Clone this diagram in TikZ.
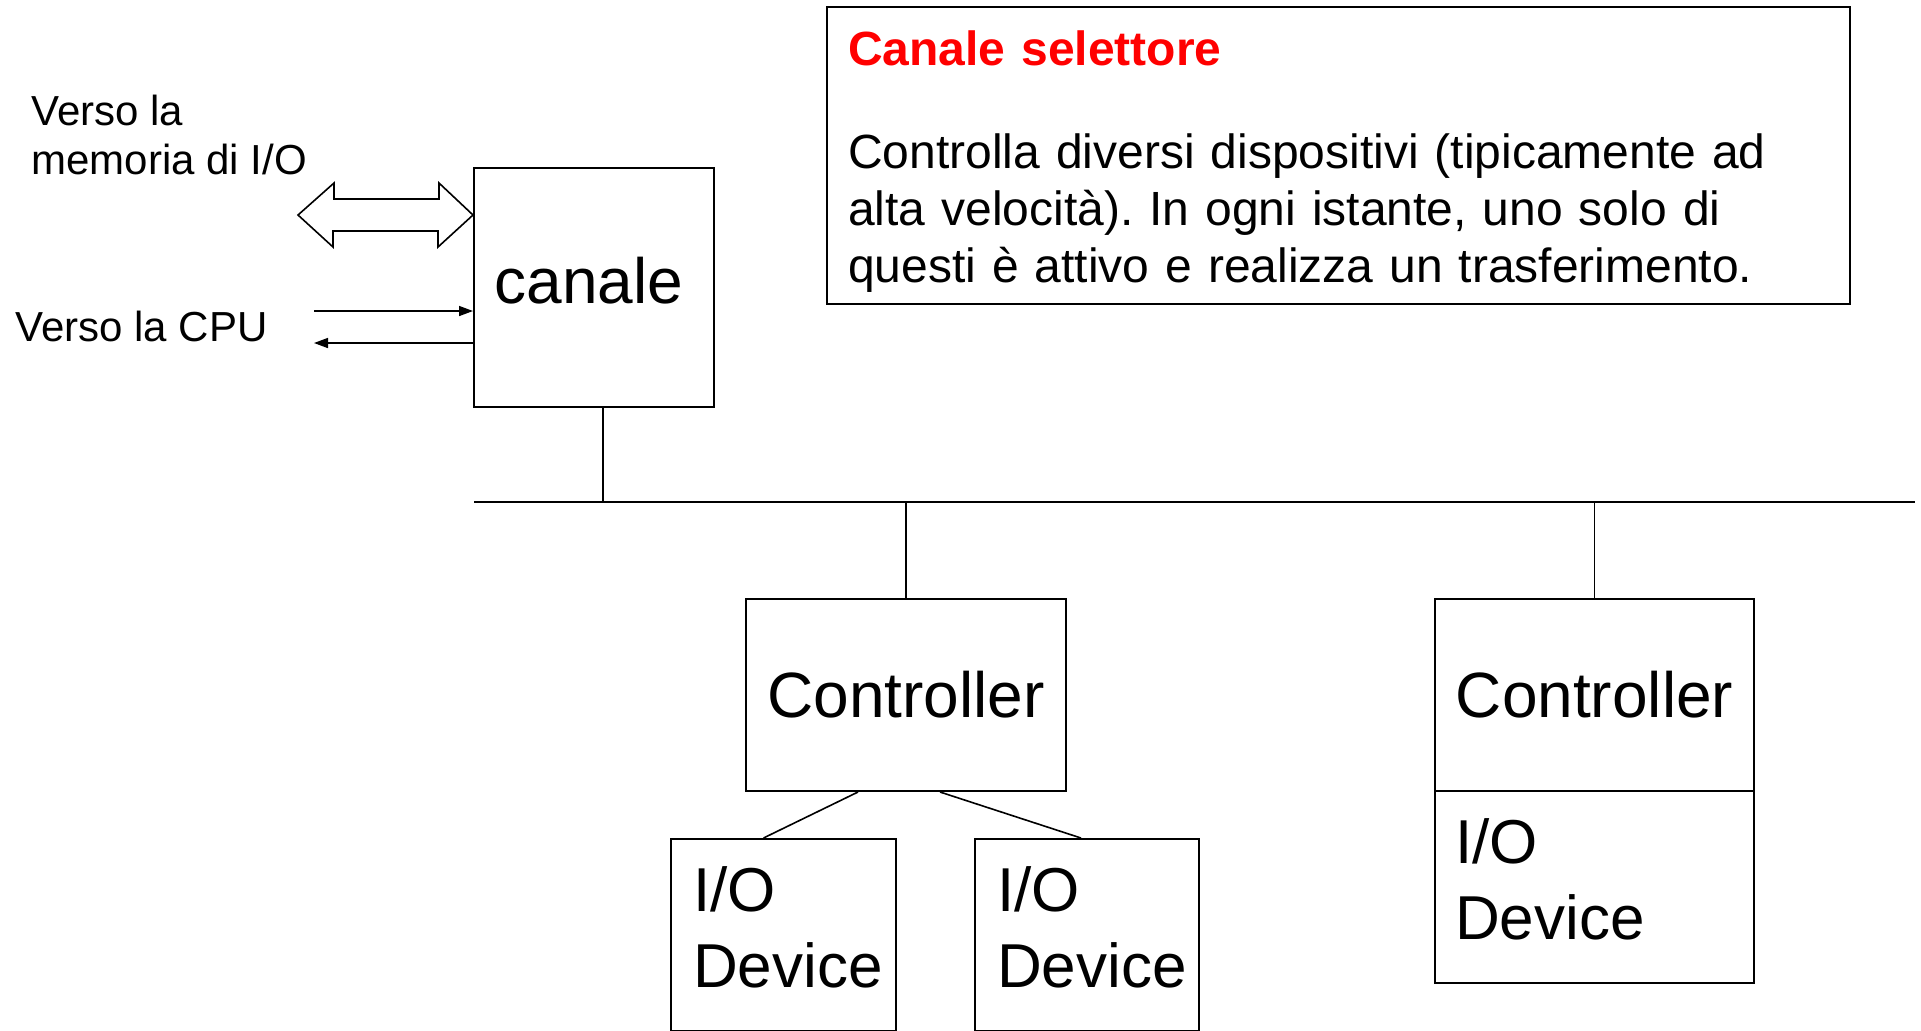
\documentclass[tikz,border=0pt]{standalone}
\usepackage{fontspec}
\setmainfont{Liberation Sans}
\frenchspacing
\usetikzlibrary{arrows.meta}
\definecolor{selRed}{RGB}{255,0,0}
\newcommand{\lowpad}{\rule[-8pt]{0pt}{8pt}}

\begin{document}
\begin{tikzpicture}[
  x=0.5pt, y=-0.5pt,
  blk/.style={
    draw, line width=1pt, inner sep=0,
    font=\fontsize{32}{38}\selectfont
  },
  dev/.style={
    draw, line width=1pt, align=left,
    inner xsep=11pt, minimum height=96pt,
    font=\fontsize{31}{38}\selectfont
  },
  lbl/.style={inner sep=0, align=left, font=\fontsize{21}{24.5}\selectfont},
  wire/.style={line width=0.8pt},
  sig/.style={wire, -{Triangle[length=7pt,width=5pt]}}
]
\useasboundingbox (0,0) rectangle (1921,1030);

% channel and its links
\node[blk, minimum width=120pt, minimum height=119.5pt, text depth=7pt] (canale) at (594,287.5) {canale\hspace*{5pt}};
\node[lbl, anchor=north west] (memlbl) at (31,95) {Verso la\\memoria di I/O};
\node[lbl, anchor=base west] (cpulbl) at (15,341) {Verso la CPU};

\coordinate (memend) at (298,215);
\draw[line width=0.8pt] (memend) -- ++(36,-32) -- ++(0,16) -- ++(105,0) -- ++(0,-16)
  -- (canale.west |- memend) -- ++(-35,32) -- ++(0,-16) -- ++(-105,0) -- ++(0,16) -- cycle;

\coordinate (cpuin) at (314,311);
\coordinate (cpuout) at (314,343);
\draw[sig] (cpuin) -- (canale.west |- cpuin);
\draw[sig] (canale.west |- cpuout) -- (cpuout);

% bus
\coordinate (busL) at (474,502);
\coordinate (busR) at (1915,502);
\coordinate (tap) at (603,502);
\draw[wire] (busL) -- (busR);
\draw[wire] (tap) -- (tap |- canale.south);

% controllers and devices
\node[blk, minimum width=160pt, minimum height=96pt] (ctrlA) at (906,695) {Controller};
\node[blk, minimum width=159.5pt, minimum height=96pt] (ctrlB) at (1594.5,695) {Controller};
\draw[wire] (ctrlA.north) -- (ctrlA.north |- busL);
\draw[wire] (ctrlB.north) -- (ctrlB.north |- busL);

\node[dev, text width=90.5pt] (devA) at (783.5,935) {I/O\\Device\lowpad};
\node[dev, text width=90pt] (devB) at (1087,935) {I/O\\Device\lowpad};
\node[dev, text width=139.5pt, inner xsep=10pt] (devC) at (1594.5,887) {I/O\\Device\lowpad};
\draw[wire] ([xshift=-24pt]ctrlA.south) -- ([xshift=-10pt]devA.north);
\draw[wire] ([xshift=17pt]ctrlA.south) -- ([xshift=-3pt]devB.north);

% description
\node[draw, line width=0.8pt, align=left, text width=490.5pt, inner xsep=10.5pt,
  minimum height=148.5pt, font=\fontsize{24}{28.5}\selectfont]
  (note) at (1338.5,155.5)
  {\rule{0pt}{23.5pt}\textcolor{selRed}{\bfseries Canale selettore}\\[23pt]
   Controlla diversi dispositivi (tipicamente ad\\
   alta velocità). In ogni istante, uno solo di\\
   questi è attivo e realizza un trasferimento.};
\end{tikzpicture}
\end{document}
